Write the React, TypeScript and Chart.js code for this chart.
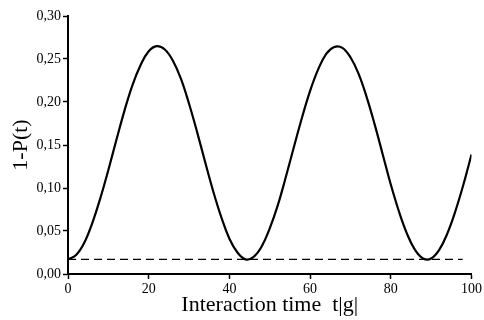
import React, { useEffect, useRef } from "react";
import { Chart, registerables } from "chart.js";

Chart.register(...registerables);

const timeValues: number[] = [
  0, 2, 4, 6, 8, 10, 12, 14, 16, 18, 20, 22, 24, 26, 28, 30, 32, 34, 36, 38, 40,
  42, 44, 46, 48, 50, 52, 54, 56, 58, 60, 62, 64, 66, 68, 70, 72, 74, 76, 78, 80,
  82, 84, 86, 88, 90, 92, 94, 96, 98, 100,
];

const oneMinusP: number[] = [
  0.017, 0.022, 0.036, 0.059, 0.088, 0.121, 0.156, 0.19, 0.22, 0.243, 0.259,
  0.265, 0.261, 0.248, 0.227, 0.198, 0.165, 0.13, 0.096, 0.066, 0.041, 0.025,
  0.017, 0.02, 0.032, 0.053, 0.08, 0.113, 0.148, 0.182, 0.213, 0.238, 0.256,
  0.264, 0.263, 0.252, 0.233, 0.206, 0.174, 0.139, 0.104, 0.073, 0.047, 0.028,
  0.018, 0.018, 0.028, 0.047, 0.073, 0.104, 0.139,
];

const baselineLevel = 0.017;
const baselineStart = 0;
const baselineEnd = 97.8;

const xTickValues: number[] = [0, 20, 40, 60, 80, 100];
const yTickValues: number[] = [0, 0.05, 0.1, 0.15, 0.2, 0.25, 0.3];

const xTitle = "Interaction time  t|g|";
const yTitle = "1-P(t)";

export default function App() {
  const canvasRef = useRef<HTMLCanvasElement | null>(null);

  useEffect(() => {
    const canvas = canvasRef.current;
    if (!canvas) return;
    const serif = "'Liberation Serif', 'Times New Roman', serif";
    const chart = new Chart(canvas, {
      type: "line",
      data: {
        datasets: [
          {
            label: "1-P(t)",
            data: timeValues.map((t, i) => ({ x: t, y: oneMinusP[i] })),
            borderColor: "#000000",
            borderWidth: 2.2,
            pointRadius: 0,
            tension: 0.4,
            fill: false,
          },
          {
            label: "baseline",
            data: [
              { x: baselineStart, y: baselineLevel },
              { x: baselineEnd, y: baselineLevel },
            ],
            borderColor: "#000000",
            borderWidth: 1.3,
            borderDash: [8, 5],
            pointRadius: 0,
            fill: false,
          },
        ],
      },
      options: {
        animation: false,
        responsive: false,
        maintainAspectRatio: false,
        layout: { padding: { top: 16, right: 12, left: 0, bottom: 0 } },
        plugins: {
          legend: { display: false },
          tooltip: { enabled: false },
        },
        scales: {
          x: {
            type: "linear",
            min: 0,
            max: 100,
            afterBuildTicks: (s: any) => {
              s.ticks = xTickValues.map((v) => ({ value: v }));
            },
            afterFit: (s: any) => {
              s.height = 46;
            },
            ticks: {
              color: "#000",
              font: { family: serif, size: 14 },
              padding: 2,
              maxRotation: 0,
              callback: (v: any) => String(v),
            },
            grid: {
              drawOnChartArea: false,
              drawTicks: true,
              tickLength: 5,
              tickWidth: 1.5,
              color: "#000",
            },
            border: { display: true, color: "#000", width: 2 },
            title: {
              display: true,
              text: xTitle,
              color: "#000",
              font: { family: serif, size: 22 },
              padding: { top: 0, bottom: 2 },
            },
          },
          y: {
            type: "linear",
            min: 0,
            max: 0.3,
            afterBuildTicks: (s: any) => {
              s.ticks = yTickValues.map((v) => ({ value: v }));
            },
            afterFit: (s: any) => {
              s.width = 68;
            },
            ticks: {
              color: "#000",
              font: { family: serif, size: 14 },
              padding: 2,
              callback: (v: any) => Number(v).toFixed(2).replace(".", ","),
            },
            grid: {
              drawOnChartArea: false,
              drawTicks: true,
              tickLength: 5,
              tickWidth: 1.5,
              color: "#000",
            },
            border: { display: true, color: "#000", width: 2 },
            title: {
              display: true,
              text: yTitle,
              color: "#000",
              font: { family: serif, size: 22 },
              padding: { top: 8, bottom: 0 },
            },
          },
        },
      },
    } as any);
    return () => chart.destroy();
  }, []);

  return (
    <div style={{ position: "fixed", left: 0, top: 0, width: 484, height: 320, background: "#fff" }}>
      <canvas ref={canvasRef} width={484} height={320} style={{ width: 484, height: 320 }} />
    </div>
  );
}
